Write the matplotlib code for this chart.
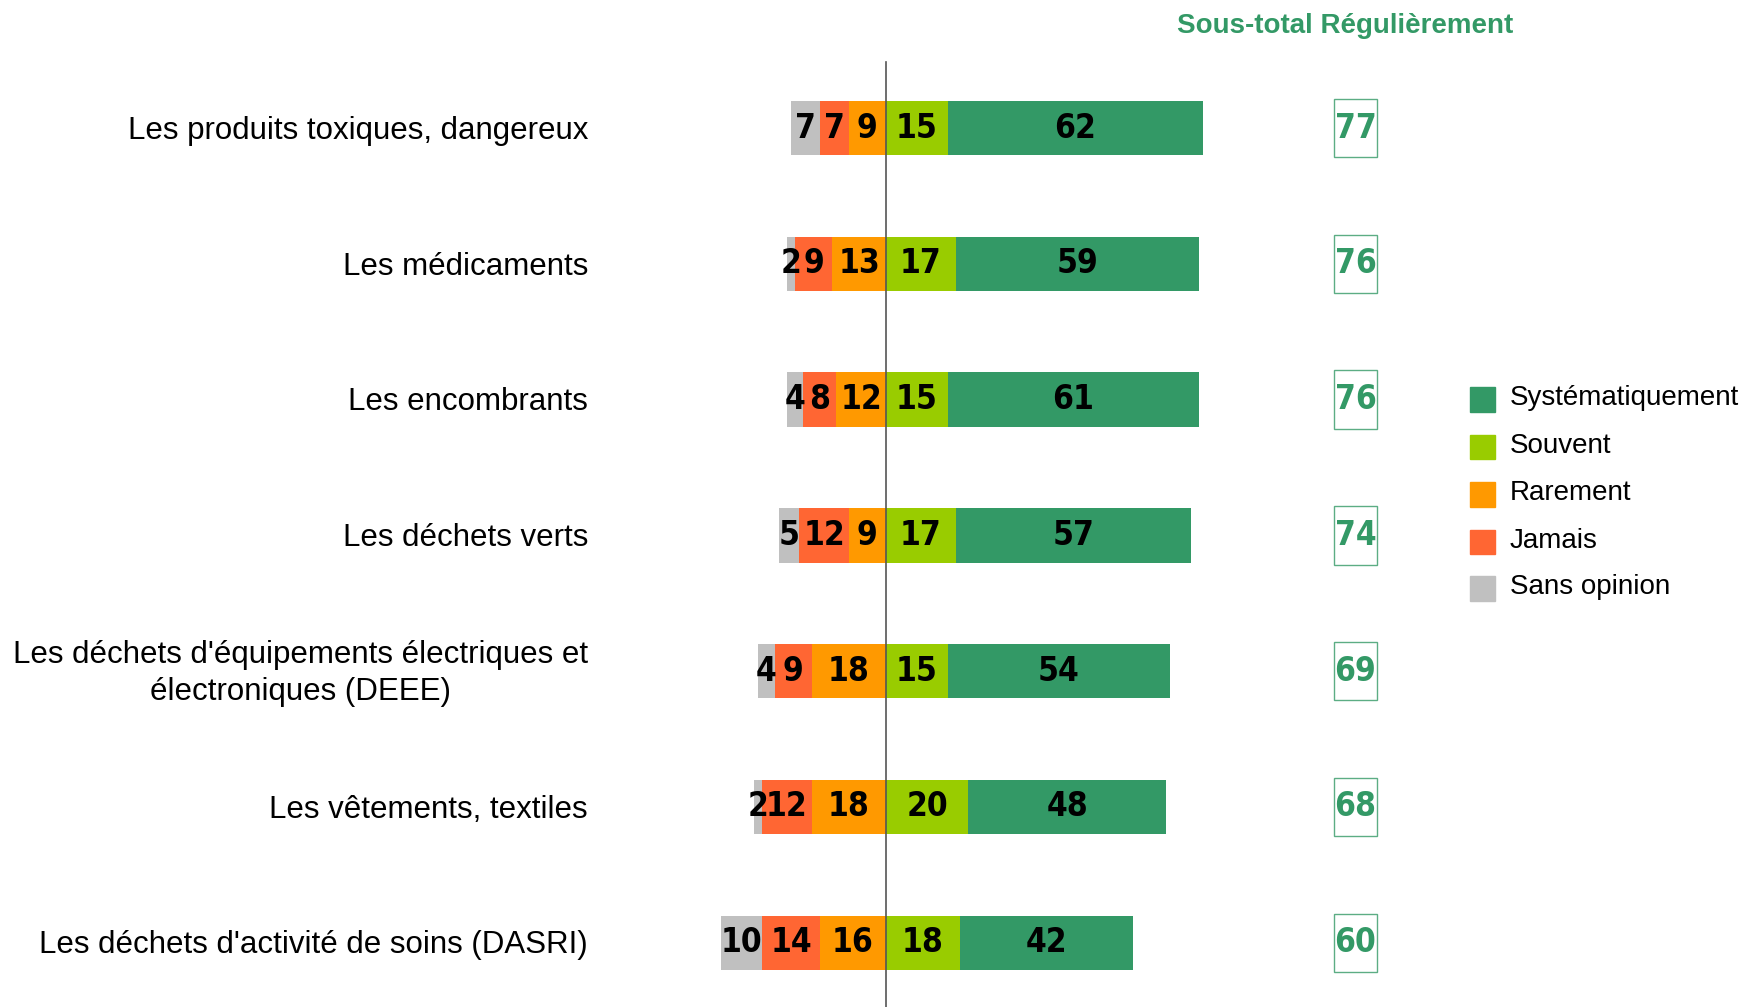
import matplotlib
matplotlib.use("Agg")
import matplotlib.pyplot as plt
from matplotlib.patches import Rectangle

plt.rcParams['font.family'] = ['Liberation Sans', 'DejaVu Sans']

# donnees
categories = [
    "Les produits toxiques, dangereux",
    "Les médicaments",
    "Les encombrants",
    "Les déchets verts",
    "Les déchets d'équipements électriques et\nélectroniques (DEEE)",
    "Les vêtements, textiles",
    "Les déchets d'activité de soins (DASRI)",
]
systematiquement = [62, 59, 61, 57, 54, 48, 42]
souvent = [15, 17, 15, 17, 15, 20, 18]
rarement = [9, 13, 12, 9, 18, 18, 16]
jamais = [7, 9, 8, 12, 9, 12, 14]
sans_opinion = [7, 2, 4, 5, 4, 2, 10]
sous_total = [77, 76, 76, 74, 69, 68, 60]

legend_labels = ["Systématiquement", "Souvent", "Rarement", "Jamais", "Sans opinion"]
colors = ["#339966", "#99CC00", "#FF9900", "#FF6633", "#C0C0C0"]
green = "#339966"

fig = plt.figure(figsize=(17.44, 10.07), dpi=100)
ax = fig.add_axes([0, 0, 1, 1])
ax.set_xlim(-215, 208.3)
ax.set_ylim(6.473, -0.943)
ax.axis('off')

h = 0.40
y = list(range(len(categories)))

# positifs
ax.barh(y, souvent, height=h, left=0, color=colors[1])
ax.barh(y, systematiquement, height=h, left=souvent, color=colors[0])
# negatifs
ax.barh(y, [-v for v in rarement], height=h, left=0, color=colors[2])
left_j = [-r for r in rarement]
ax.barh(y, [-v for v in jamais], height=h, left=left_j, color=colors[3])
left_s = [-(r + j) for r, j in zip(rarement, jamais)]
ax.barh(y, [-v for v in sans_opinion], height=h, left=left_s, color=colors[4])

def put(x, yy, v, c='black'):
    ax.text(x, yy, str(v), ha='center', va='center', fontsize=24,
            fontweight='bold', family='DejaVu Sans', fontstretch='condensed',
            color=c)

for i in y:
    put(souvent[i] / 2, i, souvent[i])
    put(souvent[i] + systematiquement[i] / 2, i, systematiquement[i])
    put(-rarement[i] / 2, i, rarement[i])
    put(-rarement[i] - jamais[i] / 2, i, jamais[i])
    put(-rarement[i] - jamais[i] - sans_opinion[i] / 2, i, sans_opinion[i])

    ax.text(-72.3, i + 0.02, categories[i], ha='right', va='center', fontsize=22.5,
            multialignment='center', linespacing=1.3)

    # sous-total
    ax.add_patch(Rectangle((114 - 5.2, i - 0.215), 10.4, 0.43, fill=False,
                           edgecolor=green, linewidth=1.0, alpha=0.8))
    put(114, i, sous_total[i], c=green)

ax.plot([0, 0], [-0.49, 6.473], color='#555555', linewidth=1.2)

ax.text(111.5, -0.75, "Sous-total Régulièrement", ha='center', va='center',
        fontsize=20, fontweight='bold', color=green)

# legende
leg_y = [2.0, 2.35, 2.7, 3.05, 3.39]
for k in range(len(legend_labels)):
    ax.add_patch(Rectangle((141.7, leg_y[k] - 0.09), 6.2, 0.18, color=colors[k]))
    ax.text(151.5, leg_y[k] - 0.01, legend_labels[k], ha='left', va='center', fontsize=20)

fig.savefig("out.png", dpi=100)
